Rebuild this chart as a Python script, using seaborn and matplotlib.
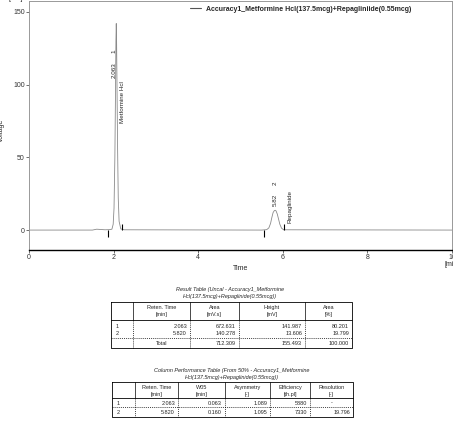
import matplotlib
matplotlib.use("Agg")
import matplotlib.pyplot as plt
import seaborn as sns
import pandas as pd

# chromatogram trace (time [min], voltage [mV])
time = [0.0, 1.5, 1.6, 1.7, 1.8, 1.9, 1.96, 1.99, 2.01, 2.03, 2.045, 2.055, 2.063,
        2.07, 2.08, 2.095, 2.11, 2.13, 2.17, 2.25, 5.5, 5.62, 5.67, 5.71, 5.74,
        5.77, 5.80, 5.82, 5.84, 5.87, 5.90, 5.93, 5.97, 6.02, 10.0]
voltage = [0.0, 0.0, 0.6, 0.4, 0.2, 0.3, 0.6, 4, 15, 50, 95, 130, 142,
           132, 100, 55, 22, 6, 0.8, 0.2, 0.0, 0.3, 1.5, 4.5, 8.5,
           12, 13.4, 13.6, 13.2, 11, 7.5, 4, 1.3, 0.2, 0.0]

peak_no = ["1", "2"]
peak_names = ["Metformine Hcl", "Repaglinide"]
peak_rt = [2.063, 5.820]
peak_rt_label = ["2.063", "5.82"]
peak_start = [1.87, 5.56]
peak_end = [2.20, 6.03]

legend_label = "Accuracy1_Metformine Hcl(137.5mcg)+Repagliniide(0.55mcg)"

# result table
res_rt = ["2.063", "5.820"]
res_area = ["672.631", "140.278", "712.309"]
res_height = ["141.987", "13.606", "155.493"]
res_area_pct = ["80.201", "19.799", "100.000"]

# column performance table
col_rt = ["2.063", "5.820"]
col_w05 = ["0.063", "0.160"]
col_asym = ["1.089", "1.095"]
col_eff = ["5880", "7330"]
col_res = ["-", "19.796"]

sns.set_theme(style="white")
plt.rcParams["font.family"] = ["Liberation Sans", "DejaVu Sans"]

fig = plt.figure(figsize=(4.53, 4.44), dpi=100)
W, H = 453, 444
ax = fig.add_axes([29 / W, 1 - 250 / H, 423 / W, 249 / H])

df = pd.DataFrame({"Time": time, "Voltage": voltage})
sns.lineplot(data=df, x="Time", y="Voltage", ax=ax, color="#8a8a8a", lw=0.6,
             estimator=None, sort=False, label=legend_label)

ax.set_xlim(0, 10)
ax.set_ylim(-13.7, 157.5)
ax.set_xticks([0, 2, 4, 6, 8, 10])
ax.set_yticks([0, 50, 100, 150])
ax.tick_params(axis="both", labelsize=5, length=2, width=0.5, pad=1,
               direction="out", bottom=True, left=True, colors="#333333")
for s in ["top", "right", "left"]:
    ax.spines[s].set_color("#999999")
    ax.spines[s].set_linewidth(0.7)
ax.spines["bottom"].set_color("black")
ax.spines["bottom"].set_linewidth(1.0)
ax.set_xlabel("Time", fontsize=5, labelpad=3)
ax.set_ylabel("Voltage", fontsize=5)
ax.yaxis.set_label_coords(-0.056, 0.48)

ax.text(10, -21, "[min]", fontsize=5, ha="center", va="top", clip_on=False)
ax.text(-0.15, 159, "[mV]", fontsize=5, ha="right", va="center", clip_on=False)

# integration markers
ax.vlines(peak_start, -4.5, 0, color="black", lw=0.8)
ax.vlines(peak_end, 0, 4.5, color="black", lw=0.8)

# peak annotations
ax.text(2.01, 110, peak_rt_label[0], rotation=90, fontsize=4.5, ha="center", va="center")
ax.text(2.01, 123, peak_no[0], rotation=90, fontsize=4.5, ha="center", va="center")
ax.text(2.22, 88, peak_names[0], rotation=90, fontsize=4.5, ha="center", va="center")
ax.text(5.82, 20.5, peak_rt_label[1], rotation=90, fontsize=4.5, ha="center", va="center")
ax.text(5.82, 32, peak_no[1], rotation=90, fontsize=4.5, ha="center", va="center")
ax.text(6.17, 16.4, peak_names[1], rotation=90, fontsize=4.5, ha="center", va="center")

leg = ax.legend(loc="upper left", bbox_to_anchor=(0.37, 1.0), frameon=False,
                handlelength=1.6, handletextpad=0.6, borderaxespad=0.3,
                prop={"size": 5, "weight": "bold"})
for l in leg.get_lines():
    l.set_color("#555555")
    l.set_linewidth(0.8)

# overlay axes in pixel coordinates for the tables
tab = fig.add_axes([0, 0, 1, 1])
tab.set_xlim(0, W)
tab.set_ylim(H, 0)
tab.axis("off")
tab.patch.set_alpha(0)

FS = 4


def draw_table(xb, top, head_bot, row_y, dash_y, bottom, headers, rows):
    # outer box + header rule
    tab.plot([xb[0], xb[-1], xb[-1], xb[0], xb[0]], [top, top, bottom, bottom, top],
             color="black", lw=0.6)
    tab.plot([xb[0], xb[-1]], [head_bot, head_bot], color="black", lw=0.6)
    for x in xb[1:-1]:
        tab.plot([x, x], [top, head_bot], color="black", lw=0.5)
        tab.plot([x, x], [head_bot, bottom], color="black", lw=0.5, ls=(0, (1.5, 1.5)))
    for y in dash_y:
        tab.plot([xb[0], xb[-1]], [y, y], color="black", lw=0.5, ls=(0, (1.5, 1.5)))
    for i, (h1, h2) in enumerate(headers):
        cx = (xb[i] + xb[i + 1]) / 2
        tab.text(cx, top + 5, h1, fontsize=FS, ha="center", va="center")
        tab.text(cx, top + 12, h2, fontsize=FS, ha="center", va="center")
    for y, row in zip(row_y, rows):
        for i, val in enumerate(row):
            if i == 0:
                tab.text(xb[0] + 6, y, val, fontsize=FS, ha="center", va="center")
            elif val == "-" or val == "Total":
                tab.text((xb[i] + xb[i + 1]) / 2, y, val, fontsize=FS, ha="center", va="center")
            else:
                tab.text(xb[i + 1] - 3, y, val, fontsize=FS, ha="right", va="center")


tab.text(230, 289, "Result Table (Uncal - Accuracy1_Metformine", fontsize=FS,
         style="italic", ha="center", va="center")
tab.text(230, 296, "Hcl(137.5mcg)+Repaglinide(0.55mcg))", fontsize=FS,
         style="italic", ha="center", va="center")
draw_table([111, 133, 190, 239, 305, 352], 302, 320, [326, 333, 343], [338], 348,
           [("", ""), ("Reten. Time", "[min]"), ("Area", "[mV.s]"),
            ("Height", "[mV]"), ("Area", "[%]")],
           [[peak_no[0], res_rt[0], res_area[0], res_height[0], res_area_pct[0]],
            [peak_no[1], res_rt[1], res_area[1], res_height[1], res_area_pct[1]],
            ["", "Total", res_area[2], res_height[2], res_area_pct[2]]])

tab.text(232, 370, "Column Performance Table (From 50% - Accuracy1_Metformine", fontsize=FS,
         style="italic", ha="center", va="center")
tab.text(232, 377, "Hcl(137.5mcg)+Repaglinide(0.55mcg))", fontsize=FS,
         style="italic", ha="center", va="center")
draw_table([112, 135, 178, 225, 270, 310, 353], 382, 398, [403, 412], [407], 417,
           [("", ""), ("Reten. Time", "[min]"), ("W05", "[min]"),
            ("Asymmetry", "[-]"), ("Efficiency", "[th.pl]"), ("Resolution", "[-]")],
           [[peak_no[0], col_rt[0], col_w05[0], col_asym[0], col_eff[0], col_res[0]],
            [peak_no[1], col_rt[1], col_w05[1], col_asym[1], col_eff[1], col_res[1]]])

fig.savefig("out.png", dpi=100)
